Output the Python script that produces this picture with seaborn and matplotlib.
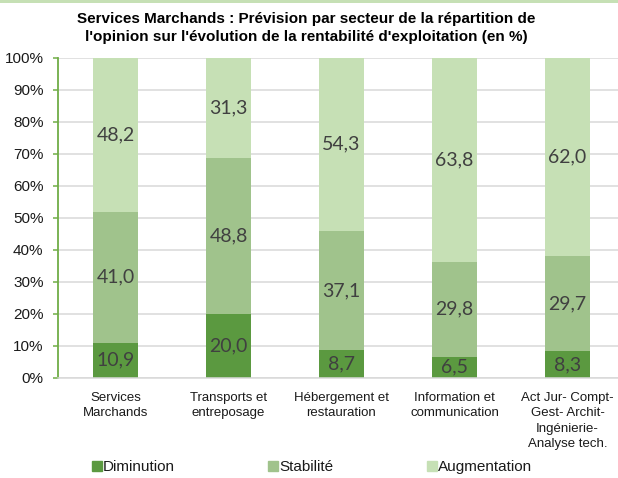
import matplotlib
matplotlib.use("Agg")
import matplotlib.pyplot as plt
from matplotlib.patches import Rectangle
from matplotlib.ticker import PercentFormatter, MultipleLocator
import seaborn as sns
import numpy as np
import pandas as pd

categories = ["Services\nMarchands", "Transports et\nentreposage", "Hébergement et\nrestauration",
              "Information et\ncommunication", "Act Jur- Compt-\nGest- Archit-\nIngénierie-\nAnalyse tech."]
diminution = [10.9, 20.0, 8.7, 6.5, 8.3]
stabilite = [41.0, 48.8, 37.1, 29.8, 29.7]
augmentation = [48.2, 31.3, 54.3, 63.8, 62.0]
series_names = ["Diminution", "Stabilité", "Augmentation"]
colors = ["#5b9940", "#a0c38c", "#c6e0b5"]
title = "Services Marchands : Prévision par secteur de la répartition de\nl'opinion sur l'évolution de la rentabilité d'exploitation (en %)"

sns.set_theme(style="white")
plt.rcParams['font.family'] = ['Liberation Sans', 'DejaVu Sans']

fig = plt.figure(figsize=(6.18, 4.78), dpi=100)
ax = fig.add_axes([58.3 / 618, 1 - 377.7 / 478, 1 - 58.3 / 618, (377.7 - 57.5) / 478])

vals = np.array([diminution, stabilite, augmentation])
totals = vals.sum(axis=0)
shares = vals / totals * 100

bottom = np.zeros(len(categories))
for i, name in enumerate(series_names):
    df = pd.DataFrame({"cat": categories, "val": shares[i]})
    sns.barplot(data=df, x="cat", y="val", color=colors[i], saturation=1, width=0.4,
                bottom=bottom.copy(), ax=ax, label=name, linewidth=0, zorder=2)
    cont = ax.containers[-1]
    ax.bar_label(cont, labels=[f"{v:.1f}".replace(".", ",") for v in vals[i]],
                 label_type="center", fontsize=14, color="#404040", family="Lato")
    bottom = bottom + shares[i]

if ax.get_legend() is not None:
    ax.get_legend().remove()

ax.set_ylim(0, 100)
ax.set_xlim(-0.506, 4.447)
ax.yaxis.set_major_locator(MultipleLocator(10))
ax.yaxis.set_major_formatter(PercentFormatter(decimals=0))
ax.set_xlabel("")
ax.set_ylabel("")
ax.grid(axis="y", color="#d9d9d9", linewidth=1.1, zorder=0)
ax.set_axisbelow(True)
for s in ["top", "right"]:
    ax.spines[s].set_visible(False)
ax.spines["left"].set_color("#70ad47")
ax.spines["left"].set_linewidth(1.3)
ax.spines["bottom"].set_color("#d9d9d9")
ax.spines["bottom"].set_linewidth(1.1)
ax.tick_params(axis="y", left=True, length=3.6, width=1.1, color="#70ad47", pad=7,
               labelsize=11, labelcolor="#1a1a1a")
ax.tick_params(axis="x", bottom=False, length=0, pad=10.5, labelsize=9.5, labelcolor="#1a1a1a")
for lbl in ax.get_xticklabels():
    lbl.set_linespacing(1.35)

fig.text(0.496, 1 - 12 / 478, title, ha="center", va="top", fontsize=11, fontweight="bold",
         color="black", linespacing=1.35)

handles = [Rectangle((0, 0), 1, 1, color=c) for c in colors]
leg = fig.legend(handles, series_names, loc="center", bbox_to_anchor=(0.505, 1 - 467 / 478), ncol=3,
                 frameon=False, fontsize=11, handlelength=0.65, handleheight=0.65,
                 handletextpad=0.08, columnspacing=6.1, borderpad=0)
for t in leg.get_texts():
    t.set_color("#1a1a1a")

fig.add_artist(Rectangle((0, 1 - 2.5 / 478), 1, 2.5 / 478, transform=fig.transFigure,
                         color="#c6e0b5", linewidth=0))

fig.savefig("out.png", dpi=100)
